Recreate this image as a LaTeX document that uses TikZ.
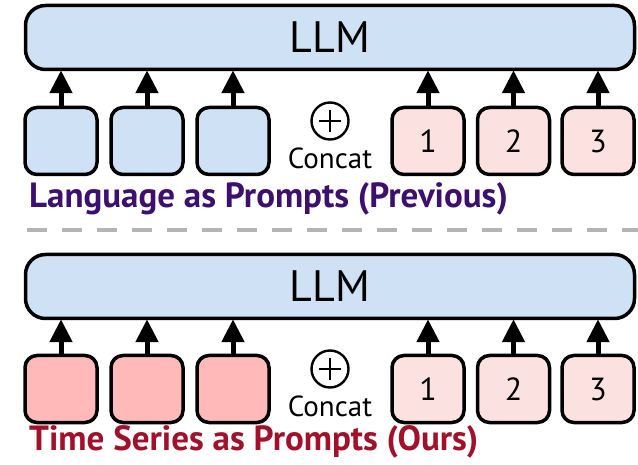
\documentclass[tikz,border=0pt]{standalone}
\usepackage{fontspec}
\setmainfont{PT Sans}
\usetikzlibrary{arrows.meta}
\definecolor{llmblue}{HTML}{CFE2F5}
\definecolor{tokpink}{HTML}{FCE1E1}
\definecolor{tspink}{HTML}{FFB9B9}
\definecolor{prevpurple}{HTML}{3D0F6E}
\definecolor{oursred}{HTML}{A3102A}
\definecolor{sepgray}{HTML}{B4B4B4}
\tikzset{
  llmbox/.style={draw=black, line width=3.5pt, rounded corners=20pt, fill=llmblue,
    minimum width=609pt, minimum height=64pt, inner sep=0pt,
    font=\fontsize{44}{44}\selectfont},
  tokbox/.style={draw=black, line width=3.5pt, rounded corners=12pt,
    minimum width=72pt, minimum height=67pt, inner sep=0pt,
    font=\fontsize{32}{32}\selectfont},
  feed/.style={line width=5pt, -{Triangle[width=22pt,length=23pt]}, shorten >=-1pt},
  catsym/.style={circle, draw=black, line width=2.4pt, minimum size=37pt, inner sep=0pt},
  catlabel/.style={font=\fontsize{29}{29}\selectfont},
  caption/.style={font=\fontsize{35}{35}\selectfont\bfseries, anchor=west, inner sep=0pt},
}
\begin{document}
\begin{tikzpicture}[x=1pt,y=1pt]
\useasboundingbox (0,0) rectangle (638,-465);

% ---------- upper panel: language tokens as prompts ----------
\node[llmbox] (llmA) at (330,-37.5) {LLM};
\node[tokbox, fill=llmblue] (a1) at (61,-141) {};
\node[tokbox, fill=llmblue] (a2) at (147,-141) {};
\node[tokbox, fill=llmblue] (a3) at (233,-141) {};
\node[tokbox, fill=tokpink] (a4) at (428,-141) {1};
\node[tokbox, fill=tokpink] (a5) at (513.5,-141) {2};
\node[tokbox, fill=tokpink] (a6) at (598,-141) {3};
\foreach \k in {1,...,6}
  \draw[feed] (a\k.north) -- (a\k.north |- llmA.south);
\node[catsym] (catA) at (330,-121) {};
\draw[line width=2.4pt] ([xshift=-11pt]catA.center) -- ([xshift=11pt]catA.center)
  ([yshift=-11pt]catA.center) -- ([yshift=11pt]catA.center);
\node[catlabel] (catlblA) at (330,-158) {Concat};
\node[caption, text=prevpurple] (capA) at (29,-199) {Language as Prompts (Previous)};

% ---------- separator ----------
\coordinate (sepL) at (27,-230);
\coordinate (sepR) at (638,-230);
\draw[sepgray, line width=4pt, dash pattern=on 20pt off 15pt] (sepL) -- (sepR);

% ---------- lower panel: time series as prompts ----------
\node[llmbox] (llmB) at (330,-286.5) {LLM};
\node[tokbox, fill=tspink] (b1) at (61,-389) {};
\node[tokbox, fill=tspink] (b2) at (147,-389) {};
\node[tokbox, fill=tspink] (b3) at (233,-389) {};
\node[tokbox, fill=tokpink] (b4) at (428,-389) {1};
\node[tokbox, fill=tokpink] (b5) at (513.5,-389) {2};
\node[tokbox, fill=tokpink] (b6) at (598,-389) {3};
\foreach \k in {1,...,6}
  \draw[feed] (b\k.north) -- (b\k.north |- llmB.south);
\node[catsym] (catB) at (330,-369) {};
\draw[line width=2.4pt] ([xshift=-11pt]catB.center) -- ([xshift=11pt]catB.center)
  ([yshift=-11pt]catB.center) -- ([yshift=11pt]catB.center);
\node[catlabel] (catlblB) at (330,-406) {Concat};
\node[caption, text=oursred] (capB) at (29,-442) {Time Series as Prompts (Ours)};
\end{tikzpicture}
\end{document}
